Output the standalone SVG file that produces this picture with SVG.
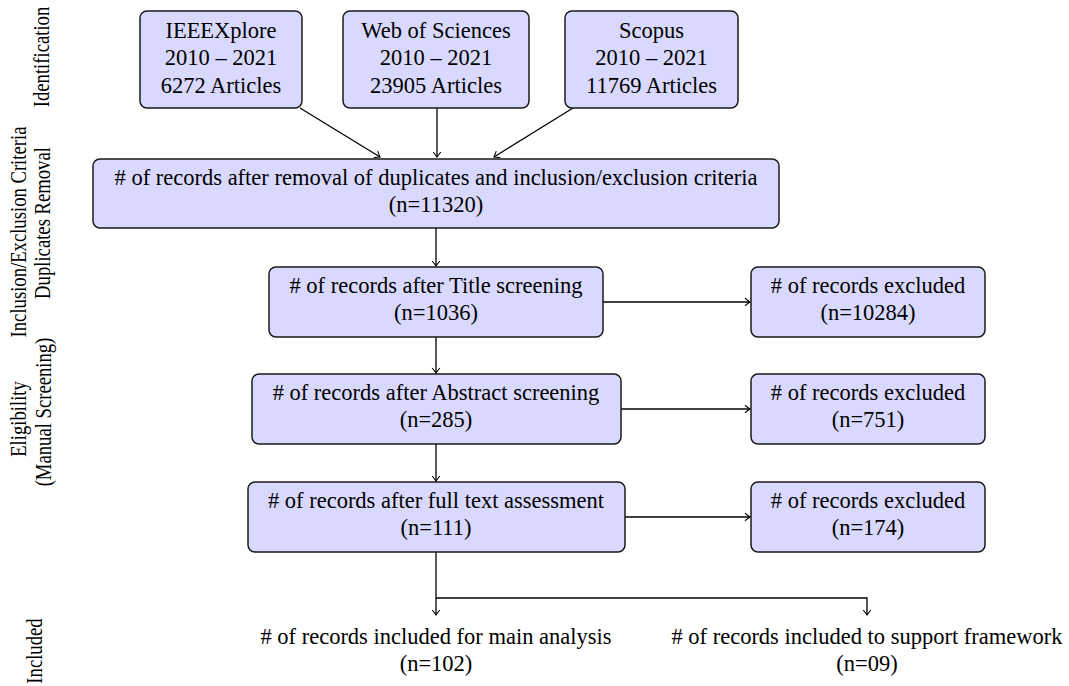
<svg xmlns="http://www.w3.org/2000/svg" width="1069" height="686" viewBox="0 0 1069 686">
<style>
  .box { fill: #d9d9ff; stroke: #1a1a1a; stroke-width: 1.5; }
  text { font-family: "Liberation Serif", "Times New Roman", serif; font-size: 22.5px; fill: #000; }
  .c { text-anchor: middle; }
  .side { font-size: 22.5px; }
  .conn { stroke: #000; stroke-width: 1.3; fill: none; }
</style>
<defs>
  <marker id="arr" viewBox="-6 -5 8 10" markerWidth="8" markerHeight="10" refX="0" refY="0" orient="auto" markerUnits="userSpaceOnUse">
    <path d="M -5,-3.8 Q -1.2,-0.8 0,0 Q -1.2,0.8 -5,3.8" fill="none" stroke="#000" stroke-width="1.1"/>
  </marker>
</defs>
<rect width="1069" height="686" fill="#fff"/>

<g id="labels">
  <text class="c side" transform="translate(49,57) rotate(-90) scale(0.83,1)">Identification</text>
  <text class="c side" transform="translate(26,232) rotate(-90) scale(0.83,1)">Inclusion/Exclusion Criteria</text>
  <text class="c side" transform="translate(50,223) rotate(-90) scale(0.83,1)">Duplicates Removal</text>
  <text class="c side" transform="translate(26,419) rotate(-90) scale(0.83,1)">Eligibility</text>
  <text class="c side" transform="translate(51,412) rotate(-90) scale(0.83,1)">(Manual Screening)</text>
  <text class="c side" transform="translate(42,651) rotate(-90) scale(0.83,1)">Included</text>
</g>

<g id="connectors">
  <line class="conn" x1="300" y1="108" x2="380" y2="157" marker-end="url(#arr)"/>
  <line class="conn" x1="437" y1="108" x2="437" y2="157" marker-end="url(#arr)"/>
  <line class="conn" x1="573" y1="108" x2="494" y2="157" marker-end="url(#arr)"/>
  <line class="conn" x1="436" y1="228" x2="436" y2="266" marker-end="url(#arr)"/>
  <line class="conn" x1="603" y1="302" x2="750" y2="302" marker-end="url(#arr)"/>
  <line class="conn" x1="436" y1="337" x2="436" y2="373" marker-end="url(#arr)"/>
  <line class="conn" x1="621" y1="409" x2="750" y2="409" marker-end="url(#arr)"/>
  <line class="conn" x1="436" y1="444" x2="436" y2="481" marker-end="url(#arr)"/>
  <line class="conn" x1="625" y1="517" x2="750" y2="517" marker-end="url(#arr)"/>
  <line class="conn" x1="436" y1="552" x2="436" y2="615" marker-end="url(#arr)"/>
  <polyline class="conn" points="436,598 867,598 867,615" marker-end="url(#arr)"/>
</g>

<g id="ieee">
  <rect class="box" x="140" y="11" width="162" height="97" rx="7"/>
  <text class="c" x="221" y="37.5">IEEEXplore</text>
  <text class="c" x="221" y="65">2010 – 2021</text>
  <text class="c" x="221" y="92.5">6272 Articles</text>
</g>
<g id="wos">
  <rect class="box" x="343" y="11" width="186" height="97" rx="7"/>
  <text class="c" x="436" y="37.5">Web of Sciences</text>
  <text class="c" x="436" y="65">2010 – 2021</text>
  <text class="c" x="436" y="92.5">23905 Articles</text>
</g>
<g id="scopus">
  <rect class="box" x="565" y="11" width="173" height="97" rx="7"/>
  <text class="c" x="651.5" y="37.5">Scopus</text>
  <text class="c" x="651.5" y="65">2010 – 2021</text>
  <text class="c" x="651.5" y="92.5">11769 Articles</text>
</g>
<g id="dedup">
  <rect class="box" x="93" y="159" width="686" height="69" rx="7"/>
  <text class="c" x="436" y="185">&#35; of records after removal of duplicates and inclusion/exclusion criteria</text>
  <text class="c" x="436" y="212">(n=11320)</text>
</g>
<g id="title">
  <rect class="box" x="269" y="267" width="334" height="70" rx="7"/>
  <text class="c" x="436" y="293">&#35; of records after Title screening</text>
  <text class="c" x="436" y="320">(n=1036)</text>
</g>
<g id="excl1">
  <rect class="box" x="751" y="267" width="234" height="70" rx="7"/>
  <text class="c" x="868" y="293">&#35; of records excluded</text>
  <text class="c" x="868" y="320">(n=10284)</text>
</g>
<g id="abstract">
  <rect class="box" x="252" y="374" width="369" height="70" rx="7"/>
  <text class="c" x="436" y="400">&#35; of records after Abstract screening</text>
  <text class="c" x="436" y="427">(n=285)</text>
</g>
<g id="excl2">
  <rect class="box" x="751" y="374" width="234" height="70" rx="7"/>
  <text class="c" x="868" y="400">&#35; of records excluded</text>
  <text class="c" x="868" y="427">(n=751)</text>
</g>
<g id="fulltext">
  <rect class="box" x="248" y="482" width="377" height="70" rx="7"/>
  <text class="c" x="436" y="508">&#35; of records after full text assessment</text>
  <text class="c" x="436" y="535">(n=111)</text>
</g>
<g id="excl3">
  <rect class="box" x="751" y="482" width="234" height="70" rx="7"/>
  <text class="c" x="868" y="508">&#35; of records excluded</text>
  <text class="c" x="868" y="535">(n=174)</text>
</g>
<g id="main">
  <text class="c" x="436" y="644">&#35; of records included for main analysis</text>
  <text class="c" x="436" y="671">(n=102)</text>
</g>
<g id="support">
  <text class="c" x="867" y="644">&#35; of records included to support framework</text>
  <text class="c" x="867" y="671">(n=09)</text>
</g>
</svg>
